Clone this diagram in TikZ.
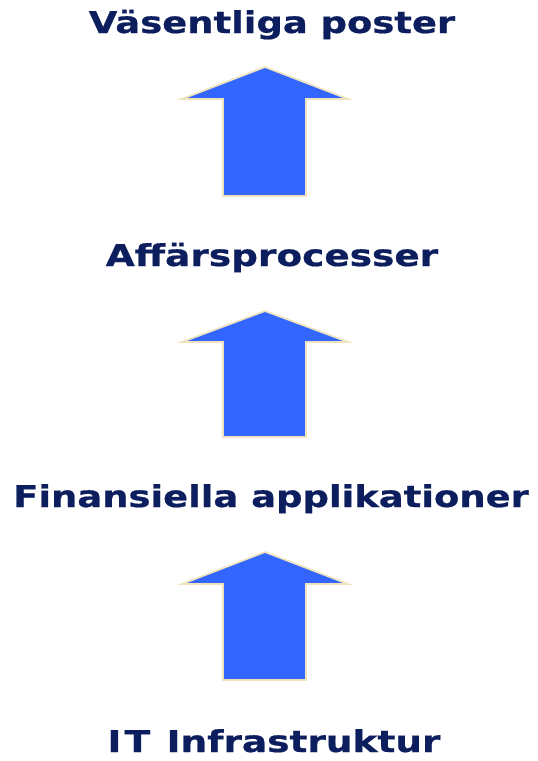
\documentclass[tikz,border=0pt]{standalone}
\usepackage{fontspec}
\setmainfont{DejaVu Sans}
\newfontfamily\labfont[FakeBold=0.6]{DejaVu Sans Bold}
\definecolor{navy}{HTML}{0C1E5E}
\definecolor{arrowblue}{HTML}{3366FF}
\definecolor{cream}{HTML}{EFE3BE}
\begin{document}
\begin{tikzpicture}[x=0.75pt,y=-0.75pt,
  label/.style={anchor=base,inner sep=0pt,text=navy,font=\labfont\fontsize{22.5}{25}\selectfont,xscale=1.23},
  uparrow/.style={fill=arrowblue,draw=cream,line width=1.3pt,line join=miter}]
\useasboundingbox (0,0) rectangle (537,761);
\fill[white] (0,0) rectangle (537,761);

% level labels, top to bottom
\node[label] (l1) at (272,33) {Väsentliga poster};
\node[label,xscale=1.015] (l2) at (272,266) {Affärsprocesser};
\node[label] (l3) at (271,507) {Finansiella applikationer};
\node[label,xscale=1.015] (l4) at (274,752) {I\kern2pt T\kern2pt{} Infrastruktur};

% block arrows between the levels
\foreach \n/\t/\b/\e in {a1/67/99/196, a2/311/342/437, a3/552/584/680}{
  \draw[uparrow] (265,\t) -- (348,\b) -- (306,\b) -- (306,\e) -- (223,\e)
    -- (223,\b) -- (182,\b) -- cycle;
}
\end{tikzpicture}
\end{document}
